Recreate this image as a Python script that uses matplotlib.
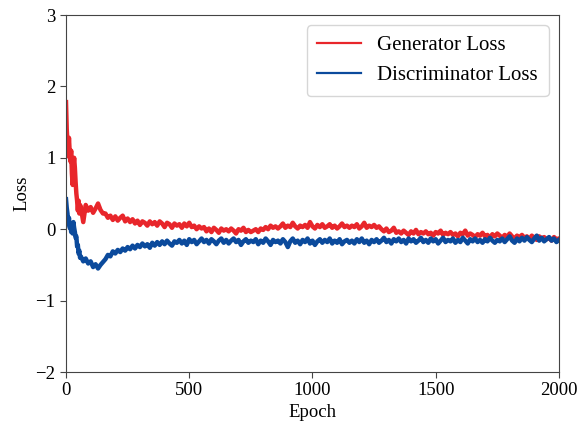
import numpy as np
import matplotlib
matplotlib.use("Agg")
import matplotlib.pyplot as plt

plt.rcParams['font.family'] = ['Liberation Serif', 'DejaVu Serif']
plt.rcParams['mathtext.fontset'] = 'stix'

# Epoch positions: fine sampling for the initial transient, then every 10 epochs
epochs_early = [0, 3, 6, 9, 12, 15, 18, 21, 24, 27, 30, 33, 36, 39, 42, 45, 48, 51, 54, 57]
epochs_late = list(range(60, 2001, 10))
epochs = epochs_early + epochs_late

gen_early = [1.78, 1.40, 1.22, 1.02, 1.28, 1.08, 0.95, 1.10, 0.78, 0.62,
             0.88, 1.00, 0.86, 0.66, 0.50, 0.40, 0.26, 0.40, 0.22, 0.34]
gen_late = [
    0.31, 0.10, 0.34, 0.26, 0.31, 0.23, 0.29, 0.36, 0.27, 0.22,
    0.22, 0.16, 0.19, 0.13, 0.18, 0.12, 0.16, 0.19, 0.11, 0.15,
    0.10, 0.14, 0.08, 0.12, 0.06, 0.11, 0.09, 0.05, 0.11, 0.07,
    0.10, 0.05, 0.11, 0.08, 0.03, 0.09, 0.07, 0.02, 0.08, 0.05,
    0.07, 0.02, 0.08, 0.04, 0.09, 0.03, 0.05, 0.00, 0.04, 0.01,
    0.03, -0.03, 0.01, -0.04, 0.02, -0.01, -0.05, 0.01, -0.02, 0.00,
    -0.03, 0.01, -0.02, -0.06, 0.00, -0.02, 0.02, -0.04, -0.01, -0.04,
    -0.02, 0.00, -0.04, 0.01, -0.01, 0.03, 0.00, 0.05, 0.02, 0.04,
    0.01, 0.04, 0.08, 0.02, 0.05, 0.03, 0.09, 0.04, 0.01, 0.05,
    0.03, 0.06, 0.02, 0.10, 0.04, 0.01, 0.06, 0.03, 0.07, 0.02,
    0.04, 0.07, 0.02, 0.05, 0.01, 0.04, 0.08, 0.03, 0.05, 0.02,
    0.05, 0.03, 0.07, 0.01, 0.04, 0.09, 0.02, 0.05, 0.03, 0.06,
    0.02, 0.04, 0.00, -0.03, 0.01, -0.04, -0.02, 0.02, -0.05, -0.03,
    -0.06, -0.02, -0.05, -0.08, -0.03, -0.06, -0.01, -0.07, -0.04, -0.06,
    -0.03, -0.07, -0.05, -0.09, -0.04, -0.06, -0.02, -0.08, -0.05, -0.07,
    -0.04, -0.08, -0.06, -0.10, -0.05, -0.07, -0.02, -0.09, -0.06, -0.08,
    -0.11, -0.07, -0.09, -0.05, -0.10, -0.08, -0.12, -0.07, -0.10, -0.06,
    -0.09, -0.12, -0.08, -0.11, -0.06, -0.10, -0.13, -0.09, -0.11, -0.08,
    -0.12, -0.10, -0.14, -0.09, -0.12, -0.15, -0.10, -0.13, -0.11, -0.14,
    -0.12, -0.16, -0.11, -0.14, -0.13,
]
gen_loss = gen_early + gen_late

disc_early = [0.42, 0.30, 0.22, 0.08, 0.16, 0.02, 0.06, -0.04, 0.02, -0.06,
              0.10, 0.02, -0.04, -0.12, -0.10, -0.24, -0.22, -0.34, -0.30, -0.40]
disc_late = [
    -0.38, -0.45, -0.41, -0.48, -0.45, -0.53, -0.49, -0.55, -0.50, -0.46,
    -0.42, -0.36, -0.38, -0.31, -0.34, -0.29, -0.32, -0.27, -0.30, -0.25,
    -0.28, -0.23, -0.27, -0.22, -0.25, -0.20, -0.24, -0.21, -0.26, -0.19,
    -0.23, -0.18, -0.22, -0.17, -0.21, -0.16, -0.20, -0.23, -0.17, -0.19,
    -0.15, -0.20, -0.16, -0.22, -0.14, -0.18, -0.15, -0.21, -0.17, -0.13,
    -0.18, -0.15, -0.20, -0.14, -0.17, -0.21, -0.16, -0.13, -0.19, -0.15,
    -0.20, -0.16, -0.13, -0.18, -0.15, -0.22, -0.17, -0.14, -0.19, -0.16,
    -0.18, -0.14, -0.21, -0.16, -0.19, -0.13, -0.17, -0.22, -0.15, -0.18,
    -0.16, -0.20, -0.14, -0.18, -0.25, -0.17, -0.13, -0.19, -0.16, -0.21,
    -0.15, -0.18, -0.13, -0.20, -0.16, -0.22, -0.17, -0.14, -0.19, -0.15,
    -0.18, -0.13, -0.20, -0.16, -0.19, -0.14, -0.21, -0.17, -0.15, -0.19,
    -0.16, -0.20, -0.14, -0.18, -0.13, -0.19, -0.16, -0.21, -0.15, -0.18,
    -0.14, -0.19, -0.16, -0.12, -0.18, -0.15, -0.20, -0.14, -0.17, -0.13,
    -0.18, -0.15, -0.20, -0.13, -0.17, -0.14, -0.19, -0.16, -0.12, -0.18,
    -0.15, -0.19, -0.13, -0.17, -0.14, -0.20, -0.16, -0.12, -0.18, -0.15,
    -0.17, -0.13, -0.19, -0.15, -0.18, -0.12, -0.16, -0.20, -0.14, -0.17,
    -0.13, -0.18, -0.15, -0.19, -0.14, -0.17, -0.12, -0.16, -0.19, -0.15,
    -0.17, -0.13, -0.18, -0.14, -0.10, -0.16, -0.19, -0.13, -0.17, -0.12,
    -0.16, -0.11, -0.15, -0.18, -0.13, -0.09, -0.16, -0.12, -0.17, -0.14,
    -0.11, -0.16, -0.13, -0.18, -0.15,
]
disc_loss = disc_early + disc_late

x_ticks = [0, 500, 1000, 1500, 2000]
y_ticks = [-2, -1, 0, 1, 2, 3]

fig = plt.figure(figsize=(5.81, 4.24), dpi=100)
ax = fig.add_axes([0.1136, 0.1226, 0.962 - 0.1136, 0.9646 - 0.1226])

ax.plot(epochs, gen_loss, color='#e8262b', lw=3.2, label='Generator Loss')
ax.plot(epochs, disc_loss, color='#0b4a9c', lw=3.2, label='Discriminator Loss')

ax.set_xlim(0, 2000)
ax.set_ylim(-2, 3)
ax.set_xticks(x_ticks)
ax.set_yticks(y_ticks)
ax.tick_params(labelsize=13.5, length=4, color='#444444')
for s in ax.spines.values():
    s.set_color('#444444')
ax.set_xlabel('Epoch', fontsize=13.5, labelpad=3)
ax.set_ylabel('Loss', fontsize=13.5, labelpad=4)

leg = ax.legend(loc='upper right', fontsize=15, frameon=True, borderpad=0.5,
                handlelength=2.1, handletextpad=0.8, labelspacing=0.5,
                borderaxespad=0.5)
for h in leg.get_lines():
    h.set_linewidth(1.6)

fig.savefig('out.png', dpi=100)
